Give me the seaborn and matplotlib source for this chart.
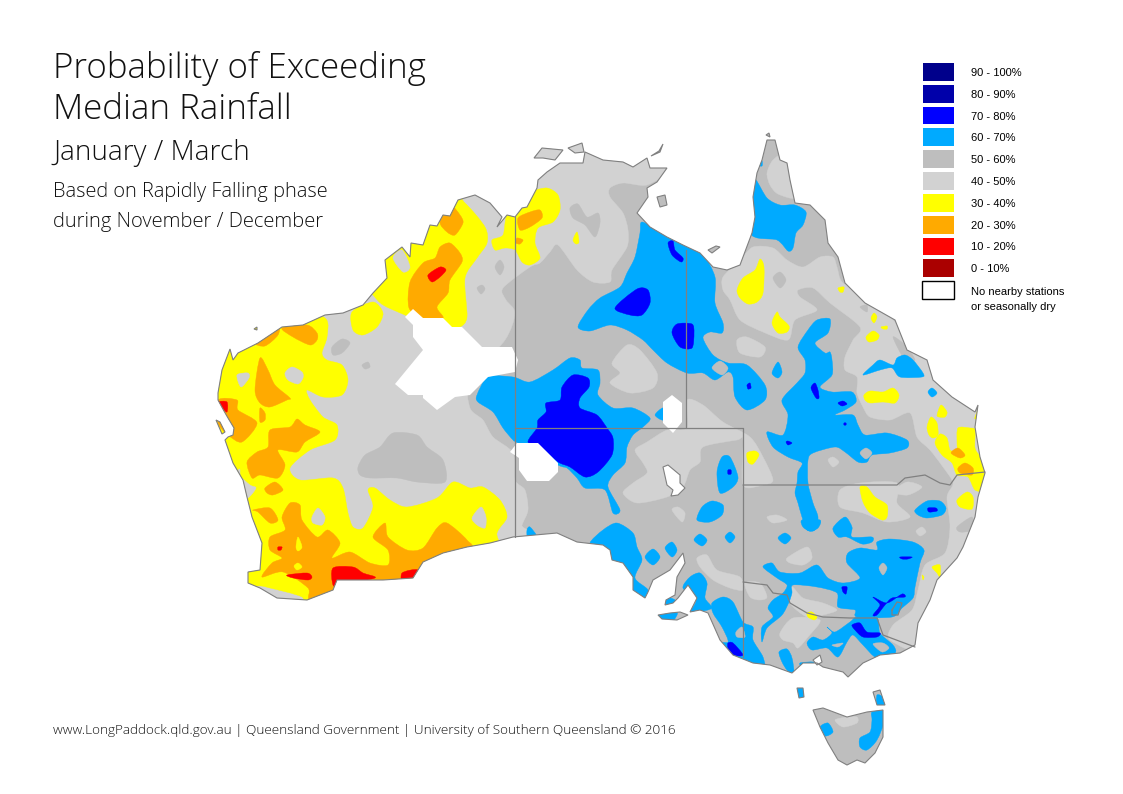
import matplotlib
matplotlib.use('Agg')
import matplotlib.pyplot as plt
import numpy as np
import seaborn as sns
from matplotlib.colors import ListedColormap
from matplotlib.path import Path
from matplotlib.patches import PathPatch, Rectangle
from matplotlib.transforms import Affine2D

# Map outlines and rainfall areas in its own x/y grid
MAINLAND = [(218,393),(222,370),(230,349),(233,360),(238,353),(258,343),(282,327),(303,325),(325,315),(343,313),(363,305),(373,293),(387,278),
    (385,260),(402,247),(410,257),(411,243),(423,245),(430,225),(437,226),(443,215),(450,216),(458,200),(475,195),(490,203),(502,217),(497,227),(507,215),(515,217),
    (522,208),(527,207),(537,188),(538,180),(547,172),(560,163),(583,163),(585,152),(603,160),(623,162),(633,167),(647,158),(650,168),(667,168),(657,182),
    (647,188),(648,197),(637,213),(650,227),(667,237),(683,245),(700,253),(713,267),(727,270),(740,265),(752,233),(755,217),(753,197),(757,173),
    (762,160),(767,140),(775,140),(780,160),(787,163),(790,180),(795,203),(810,205),(825,220),(828,243),(838,257),(845,283),(865,303),(895,320),
    (907,350),(927,360),(933,380),(952,397),(975,412),(978,405),(975,427),(980,457),(985,473),(978,497),(975,517),(963,547),(957,558),(937,580),
    (930,600),(918,623),(915,645),(900,653),(880,655),(863,663),(848,677),(843,672),(823,667),(817,663),(803,663),(792,673),(770,665),(753,663),
    (733,655),(720,640),(708,613),(700,610),(690,612),(697,598),(688,585),(678,598),(673,603),(665,605),(666,600),(675,595),(677,577),(685,563),
    (683,553),(670,570),(653,580),(648,592),(645,598),(633,590),(633,577),(623,563),(612,560),(610,550),(603,545),(577,542),(557,533),(513,537),
    (490,543),(467,547),(443,553),(423,562),(413,578),(383,580),(337,580),(333,590),(307,600),(277,598),(260,588),(248,583),(248,572),(260,570),
    (262,543),(252,517),(247,497),(243,480),(233,463),(225,440),(228,437),(233,435),(234,428),(228,418),(224,411),(218,400)]
ISLANDS = [[(534,158),(542,148),(563,150),(555,160),(543,158)], [(568,148),(582,143),(584,152),(575,153)], [(657,197),(665,195),(667,205),(660,207)],
    [(708,250),(716,246),(720,247),(712,253)], [(658,615),(670,613),(680,612),(688,615),(677,620),(662,619)], [(797,688),(803,688),(804,697),(799,698)],
    [(873,692),(880,690),(885,705),(877,705)], [(813,710),(823,708),(847,717),(867,712),(883,710),(883,737),(875,753),(865,763),(857,760),(847,765),(838,760),(828,743),(820,727)],
    [(216,420),(220,422),(225,432),(222,434)], [(254,329),(257,327),(257,330)], [(651,156),(659,151),(663,144),(660,152)], [(766,135),(769,133),(770,137)]]

LIGHT_AREAS = [
    [(650,150),(667,170),(647,185),(623,183),(610,188),(610,197),(623,213),(628,230),(627,247),(612,270),(610,282),(593,282),(577,270),(558,245),(550,252),
     (540,263),(530,267),(503,288),(506,300),(515,313),(505,340),(470,380),(470,408),(483,420),(493,437),(513,453),(515,480),(525,490),(528,510),(522,525),
     (516,545),(300,620),(190,600),(190,300),(450,170),(540,130),(650,130)],
    [(773,160),(767,173),(770,185),(778,194),(796,198),(800,180),(785,155)],
    [(723,277),(740,260),(753,247),(773,248),(787,260),(803,267),(820,257),(833,257),(837,267),(843,283),(870,295),(915,345),(960,390),(990,430),(990,500),
     (970,560),(945,590),(925,650),(890,640),(893,625),(912,610),(918,590),(925,565),(945,553),(950,527),(947,497),(953,483),(943,467),(930,450),(917,437),
     (910,413),(890,420),(870,417),(863,407),(857,393),(857,377),(845,370),(845,357),(853,340),(860,327),(830,303),(813,288),(798,290),(800,297),(817,310),
     (795,320),(788,340),(763,332),(740,320),(730,300),(723,290)],
    [(737,340),(747,337),(765,347),(760,357),(740,353)],
    [(612,363),(627,345),(640,350),(657,373),(653,388),(630,393),(610,383),(620,373)],
    [(687,400),(703,405),(723,422),(750,437),(763,457),(773,480),(763,485),(743,485),(743,440),(737,440),(703,447),(700,462),(690,470),(683,487),(667,497),
     (637,503),(623,493),(633,483),(647,473),(643,463),(635,450),(647,442),(667,430),(687,428)],
    [(672,510),(678,507),(685,513),(682,522)], [(767,517),(777,515),(787,520),(773,523)],
    [(840,490),(860,483),(897,483),(897,503),(910,517),(887,522),(863,513),(840,507)],
    [(893,492),(907,482),(922,487),(908,495)], [(828,460),(833,457),(839,462),(833,467)], [(916,531),(922,527),(926,532),(920,536)],
    [(780,633),(793,618),(820,620),(808,637),(798,648),(793,643),(783,640)],
    [(792,587),(803,598),(823,603),(837,610),(823,615),(807,617),(790,603)],
    [(697,558),(707,555),(717,570),(740,577),(743,590),(730,588),(713,580),(700,567)],
    [(745,583),(760,583),(767,597),(760,600),(750,597)], [(787,558),(807,547),(812,558),(803,565),(790,563)],
    [(835,720),(847,717),(857,717),(857,723),(843,727)],
]
MID_PATCHES = [
    [(570,208),(578,204),(587,217),(598,213),(600,223),(595,237),(585,225),(573,218)],
    [(358,467),(365,455),(380,447),(393,433),(417,435),(427,447),(443,460),(445,482),(417,482),(397,478),(370,478),(360,475)],
    [(332,347),(342,339),(350,343),(342,353),(333,355)], [(362,365),(368,362),(370,367),(365,369)],
    [(495,267),(500,260),(504,267),(500,275)], [(477,288),(482,285),(485,289),(481,294)],
    [(773,278),(780,272),(786,280),(780,288)], [(893,337),(905,345),(915,360),(905,360)], [(860,307),(867,305),(867,312)],
    [(957,527),(972,517),(971,530),(960,532)],
]
YELLOW_AREAS = [
    [(352,312),(373,302),(383,313),(377,327),(363,335),(353,330)],
    [(373,295),(383,305),(405,315),(430,325),(450,327),(460,327),(467,317),(465,278),(477,258),(487,243),(485,227),(465,203),(445,190),(380,250),(365,285)],
    [(492,240),(503,235),(507,215),(522,205),(532,192),(547,188),(558,195),(560,210),(553,222),(538,228),(535,243),(540,258),(530,265),(522,262),(515,250),(505,248),(495,250)],
    [(573,240),(577,232),(579,242),(576,244)],
    [(325,318),(327,337),(322,353),(327,360),(342,365),(348,380),(342,395),(323,397),(307,390),(310,400),(323,417),(337,425),(335,440),(310,450),(290,468),(300,480),
     (333,478),(343,488),(348,513),(353,527),(363,528),(373,507),(368,490),(375,488),(390,500),(407,507),(437,498),(453,482),(470,488),(483,487),(500,500),(507,517),
     (497,533),(495,560),(400,600),(310,610),(302,597),(270,588),(258,586),(235,590),(235,500),(238,474),(200,450),(200,340),(290,310)],
    [(737,290),(743,278),(755,270),(760,259),(764,267),(763,293),(757,302),(748,304),(740,298)],
    [(772,323),(777,312),(780,317),(789,326),(787,332),(778,333)], [(838,288),(844,287),(843,292),(840,292)],
    [(871,318),(874,313),(877,317),(874,323)], [(866,337),(873,331),(879,335),(877,340),(869,342)], [(881,327),(887,326),(887,329),(883,329)],
    [(864,395),(870,391),(883,392),(893,388),(899,395),(895,403),(883,402),(870,403),(865,400)],
    [(937,415),(941,405),(947,412),(945,417),(939,417)], [(927,427),(931,417),(937,423),(938,435),(933,438),(929,435)],
    [(935,443),(940,434),(947,438),(950,450),(957,451),(957,443),(958,428),(970,428),(975,430),(975,448),(980,457),(984,472),(985,490),(975,490),(968,477),(957,475),(952,463),(942,455)],
    [(957,500),(967,492),(973,497),(972,509),(960,507)], [(975,417),(978,410),(978,418),(975,419)],
    [(747,453),(755,451),(759,455),(753,464),(748,462)],
    [(860,487),(867,487),(875,497),(887,505),(887,517),(882,520),(870,513),(863,502)],
    [(807,613),(812,612),(817,617),(814,620),(808,617)], [(922,575),(924,577),(923,580)], [(932,567),(940,565),(940,577),(937,573)],
]
LIGHT_HOLES = [
    [(393,258),(402,250),(410,267),(403,272)], [(240,470),(238,474),(250,485),(256,488),(248,498),(240,498)],
    [(237,375),(248,373),(249,378),(241,387)], [(285,373),(292,367),(302,372),(303,378),(298,384),(288,380)],
    [(312,517),(318,508),(325,517),(322,525),(313,523)], [(472,518),(481,507),(486,517),(485,528),(477,525)],
]
ORANGE_AREAS = [
    [(410,282),(423,263),(435,258),(440,247),(450,243),(460,253),(462,262),(450,280),(448,293),(437,307),(443,318),(423,318),(409,308)],
    [(440,222),(450,205),(460,215),(463,223),(455,235),(447,232)],
    [(518,218),(530,212),(540,210),(542,218),(530,227),(520,230)], [(517,238),(523,240),(520,244),(516,243)],
    [(255,342),(278,325),(278,335),(265,346)], [(282,328),(307,325),(317,333),(317,340),(310,345),(293,337)],
    [(260,358),(268,370),(275,385),(290,398),(287,400),(270,407),(260,403),(255,390)],
    [(218,400),(237,400),(238,410),(257,423),(242,442),(228,435),(218,423)], [(260,408),(265,413),(265,420),(260,422)],
    [(270,430),(290,427),(297,419),(305,425),(320,432),(305,442),(297,452),(278,450),(285,465),(278,478),(260,475),(252,478),(247,462),(257,452),(268,447)],
    [(265,488),(275,482),(283,490),(273,495),(267,493)], [(253,510),(270,508),(278,520),(270,523),(258,512)],
    [(282,517),(290,503),(300,505),(302,520),(317,537),(328,530),(340,543),(332,558),(350,552),(370,563),(388,565),(388,550),(373,537),(385,523),(388,537),(407,550),
     (423,548),(437,528),(447,523),(467,540),(470,552),(420,590),(340,600),(310,600),(308,588),(283,572),(262,577),(272,563),(282,558),(270,550),(270,537),(285,530)],
    [(951,453),(958,448),(965,455),(960,458)], [(958,468),(965,463),(973,468),(972,475),(960,473)],
]
YELLOW_HOLES = [[(298,537),(302,547),(298,551),(296,547)], [(298,563),(302,567),(297,570),(294,566)]]
RED_AREAS = [
    [(428,275),(440,267),(446,270),(440,277),(432,282)], [(218,402),(227,402),(227,412),(222,408)],
    [(287,575),(307,573),(312,577),(308,580),(293,578)], [(278,547),(282,547),(281,550),(278,550)],
    [(333,568),(353,567),(363,573),(375,578),(340,585),(333,585)], [(402,573),(418,570),(413,585),(403,585)],
]
BLUE_AREAS = [
    [(477,395),(488,377),(513,377),(530,382),(553,370),(570,358),(580,360),(582,368),(598,370),(600,383),(598,395),(613,408),(633,408),(650,418),(643,427),(633,435),
     (627,447),(625,463),(613,475),(608,487),(620,510),(613,513),(605,490),(585,488),(577,478),(567,468),(558,465),(518,443),(513,440),(503,428),(493,412),(478,402)],
    [(655,415),(663,408),(663,420)],
    [(642,222),(660,232),(683,245),(703,255),(715,277),(715,303),(723,323),(722,333),(710,332),(703,338),(713,355),(728,363),(747,365),(765,385),(765,400),(747,410),
     (735,397),(733,377),(728,372),(715,380),(703,373),(687,373),(667,363),(653,350),(643,340),(627,330),(610,325),(590,331),(578,327),(588,310),(600,298),(620,287),
     (627,273),(635,257),(640,233)],
    [(756,180),(767,198),(780,205),(795,205),(806,212),(803,225),(796,233),(793,248),(788,251),(777,240),(750,233),(750,180)], [(758,165),(762,161),(762,166)],
    [(717,472),(722,457),(730,457),(738,477),(733,487),(720,493)], [(697,520),(702,507),(712,501),(723,505),(722,515),(710,522)],
    [(590,543),(603,530),(617,523),(633,533),(637,547),(642,560),(635,578),(648,590),(643,600),(630,590),(625,570),(610,565),(600,550)],
    [(645,557),(653,549),(660,557),(653,565)], [(665,548),(672,542),(677,550),(672,557)], [(694,540),(700,534),(707,540),(702,546)],
    [(725,537),(730,532),(735,537),(730,543)], [(778,538),(785,533),(791,538),(785,544)], [(802,520),(820,520),(818,528),(810,531),(803,527)],
    [(527,530),(530,527),(537,537),(528,540)],
    [(798,347),(808,330),(817,320),(830,319),(828,333),(815,343),(825,353),(830,352),(832,360),(832,375),(820,387),(832,392),(852,392),(856,402),(845,410),(835,415),
     (853,415),(858,425),(865,435),(887,433),(907,440),(907,448),(890,453),(872,455),(867,462),(858,462),(845,452),(835,447),(813,453),(808,460),(808,483),(813,503),
     (818,517),(815,530),(807,530),(802,517),(798,503),(795,493),(797,483),(798,472),(802,463),(788,457),(773,447),(767,432),(783,435),(788,415),(782,400),(797,383),
     (805,373),(805,360)],
    [(772,373),(778,362),(782,372),(778,378)],
    [(863,375),(873,365),(880,360),(893,365),(897,358),(905,355),(913,360),(923,373),(922,377),(900,377),(892,368),(880,370)],
    [(928,392),(932,388),(937,393),(932,397)],
    [(833,528),(845,517),(852,527),(852,537),(872,537),(872,542),(862,544),(847,537),(838,537)],
    [(915,510),(927,501),(940,501),(946,508),(942,515),(927,518),(918,515)],
    [(763,567),(772,563),(780,572),(800,573),(817,565),(828,578),(843,583),(860,578),(847,563),(848,553),(860,548),(877,550),(877,542),(890,539),(913,542),(924,550),
     (920,563),(915,587),(913,598),(902,608),(892,617),(857,617),(855,610),(838,607),(837,593),(817,587),(793,585),(792,593),(789,602),(782,615),(767,628),(762,642),
     (762,627),(773,617),(768,608),(773,600),(783,593),(787,585),(777,578)],
    [(827,627),(835,632),(850,622),(857,617),(877,618),(880,633),(893,645),(895,653),(877,658),(863,645),(853,635),(847,642),(838,657),(827,648),(812,650),(807,643),
     (813,637),(823,640),(832,633)],
    [(683,588),(690,577),(700,573),(707,583),(705,598),(712,608),(698,612),(690,612),(696,600)], [(665,605),(668,598),(675,600),(673,605)],
    [(712,603),(723,597),(733,602),(743,622),(753,627),(753,640),(763,657),(765,672),(753,672),(743,660),(728,656),(715,642),(728,642),(722,627),(713,613)],
    [(779,652),(787,649),(792,658),(794,675),(787,670),(782,662)], [(800,663),(813,662),(813,665),(803,668)],
    [(656,616),(677,612),(672,622),(662,621)], [(795,686),(805,686),(806,699),(797,700)], [(877,695),(883,697),(885,705),(877,706)],
    [(820,727),(828,723),(833,732),(825,736)], [(872,712),(885,708),(885,720),(877,740),(867,750),(860,747),(860,738),(870,732),(872,720)],
]
MID_HOLES = [[(712,368),(720,361),(728,368),(722,375)], [(860,453),(866,448),(872,453),(866,459)], [(879,568),(883,563),(887,568),(883,575)],
    [(873,644),(883,643),(889,648),(882,652)], [(832,645),(843,643),(838,647)], [(736,632),(742,627),(745,637),(737,637)]]
DARK_BLUE_AREAS = [
    [(528,442),(537,428),(538,420),(546,412),(546,403),(560,400),(562,387),(573,375),(588,378),(589,387),(580,398),(580,408),(597,415),(607,428),(613,438),(612,455),
     (598,472),(585,477),(570,467),(558,462),(542,448)],
    [(615,308),(637,289),(648,290),(650,303),(642,315),(630,315)], [(668,243),(673,241),(675,250),(683,258),(681,262),(672,255)],
    [(672,333),(677,324),(692,324),(694,333),(692,348),(680,347)], [(747,385),(750,383),(751,388),(748,389)],
    [(811,388),(815,383),(818,390),(819,398),(816,398)], [(838,403),(843,401),(847,404),(842,406)], [(786,442),(788,441),(792,443),(788,445)],
    [(844,423),(846,423),(846,425),(844,425)], [(728,470),(731,470),(731,474),(728,474)], [(928,508),(936,508),(937,511),(929,512)],
    [(852,625),(860,623),(867,632),(880,633),(877,637),(863,637),(855,630)],
    [(873,597),(887,603),(902,594),(905,597),(892,598),(885,605),(877,615),(873,615),(880,605)],
    [(900,557),(912,557),(908,559),(902,559)], [(842,587),(847,587),(846,594),(843,592)], [(728,643),(733,643),(743,655),(733,655),(728,648)],
]
NO_DATA_AREAS = [
    [(405,317),(413,309),(423,318),(443,318),(452,327),(462,327),(482,347),(512,347),(518,360),(515,372),(488,377),(470,395),(455,397),(437,410),(423,398),(423,395),
     (408,395),(395,384),(423,350),(413,337),(413,325)],
    [(510,452),(517,443),(538,443),(558,463),(558,472),(549,481),(527,481),(519,470),(519,458)],
    [(663,402),(672,395),(682,403),(682,422),(673,433),(663,423)],
]
LAKES = [[(663,467),(668,465),(680,475),(680,483),(685,488),(678,495),(671,496),(673,490),(667,485)], [(813,660),(820,655),(822,662),(817,665)]]
BORDERS = [
    [(515,217),(515,537)], [(515,428),(743,428)], [(686,250),(686,428)], [(743,428),(743,657)],
    [(743,485),(897,485),(905,478),(925,475),(940,483),(950,485),(957,475),(985,472)],
    [(743,582),(767,585),(773,593),(787,595),(790,603),(807,613),(823,617),(850,618),(877,618),(883,635),(915,647)],
    [(892,610),(897,602),(902,603),(898,615),(892,615),(892,610)],
]

LEGEND_LABELS = ['90 - 100%', '80 - 90%', '70 - 80%', '60 - 70%', '50 - 60%', '40 - 50%', '30 - 40%', '20 - 30%', '10 - 20%', '0 - 10%',
                 'No nearby stations\nor seasonally dry']
LEGEND_COLORS = ['#00008b', '#0000aa', '#0000ff', '#00aaff', '#bebebe', '#d2d2d2', '#ffff00', '#ffaa00', '#ff0000', '#aa0000', '#ffffff']
COAST = '#808080'

sns.set_theme(style='white')
plt.rcParams['font.family'] = ['Open Sans', 'DejaVu Sans']

fig = plt.figure(figsize=(11.23, 7.94), dpi=100)
ax = fig.add_axes([0, 0, 1, 1])
ax.set_xlim(0, 1123)
ax.set_ylim(794, 0)
ax.axis('off')


def land_path(outlines):
    return Path.make_compound_path(*[Path(o + [o[0]], closed=True) for o in outlines])


def smooth_path(area):
    # closed curve through the outline points, the contours in the map are round
    pts = np.array(area, dtype=float)
    n = len(pts)
    verts = [pts[0]]
    codes = [Path.MOVETO]
    for i in range(n):
        p0, p1, p2, p3 = pts[i - 1], pts[i], pts[(i + 1) % n], pts[(i + 2) % n]
        verts += [p1 + (p2 - p0) * 0.14, p2 - (p3 - p1) * 0.14, p2]
        codes += [Path.CURVE4] * 3
    return Path(verts, codes)


land = land_path([MAINLAND] + ISLANDS)
base = PathPatch(land, facecolor=LEGEND_COLORS[4], edgecolor='none', zorder=1)
ax.add_patch(base)

# everything is clipped to the coast, so areas can run out over the sea
layers = [(LIGHT_AREAS, LEGEND_COLORS[5]), (MID_PATCHES, LEGEND_COLORS[4]), (YELLOW_AREAS, LEGEND_COLORS[6]),
          (LIGHT_HOLES, LEGEND_COLORS[5]), (ORANGE_AREAS, LEGEND_COLORS[7]), (YELLOW_HOLES, LEGEND_COLORS[6]),
          (RED_AREAS, LEGEND_COLORS[8]), (BLUE_AREAS, LEGEND_COLORS[3]), (MID_HOLES, LEGEND_COLORS[4]),
          (DARK_BLUE_AREAS, LEGEND_COLORS[2])]
for z, (areas, color) in enumerate(layers):
    for area in areas:
        patch = ax.add_patch(PathPatch(smooth_path(area), facecolor=color, edgecolor=color, linewidth=0.3, zorder=2 + z))
        patch.set_clip_path(base)

for area in NO_DATA_AREAS:
    xs, ys = zip(*area)
    for poly in ax.fill(xs, ys, color='white', linewidth=0, zorder=14):
        poly.set_clip_path(base)

for lake in LAKES:
    xs, ys = zip(*lake)
    ax.fill(xs, ys, facecolor='white', edgecolor=COAST, linewidth=0.8, zorder=15)
for border in BORDERS:
    xs, ys = zip(*border)
    ax.plot(xs, ys, color=COAST, linewidth=0.9, zorder=16)
ax.add_patch(PathPatch(land, facecolor='none', edgecolor=COAST, linewidth=0.8, zorder=17))

ink = '#111111'
ax.text(53, 78, 'Probability of Exceeding', fontsize=25.2, fontweight='light', color=ink)
ax.text(53, 119, 'Median Rainfall', fontsize=25.2, fontweight='light', color=ink)
ax.text(53, 160, 'January / March', fontsize=20.1, fontweight='light', color=ink)
ax.text(53, 197, 'Based on Rapidly Falling phase', fontsize=14.4, fontweight='light', color=ink)
ax.text(53, 227, 'during November / December', fontsize=14.5, fontweight='light', color=ink)
ax.text(53, 734, 'www.LongPaddock.qld.gov.au | Queensland Government | University of Southern Queensland © 2016',
        fontsize=9.7, fontweight='light', color=ink)

# legend as a one column heatmap of the class index
cax = fig.add_axes([920.5 / 1123, 1 - 301 / 794, 35 / 1123, 240 / 794])
classes = np.arange(len(LEGEND_LABELS)).reshape(-1, 1)
sns.heatmap(classes, ax=cax, cmap=ListedColormap(LEGEND_COLORS), cbar=False, linewidths=1.5, linecolor='white',
            xticklabels=False, yticklabels=LEGEND_LABELS)
cax.yaxis.tick_right()
cax.tick_params(axis='y', length=0, pad=11, labelrotation=0, labelsize=8, colors='black')
labels = cax.get_yticklabels()
for label in labels:
    label.set_family(['Liberation Sans', 'DejaVu Sans'])
    label.set_linespacing(1.6)
labels[-1].set_transform(labels[-1].get_transform() + Affine2D().translate(0, -6))
cax.add_patch(Rectangle((0.045, 10.08), 0.91, 0.84, facecolor='white', edgecolor='black', linewidth=1.0, clip_on=False))

fig.savefig('out.png', dpi=100)
